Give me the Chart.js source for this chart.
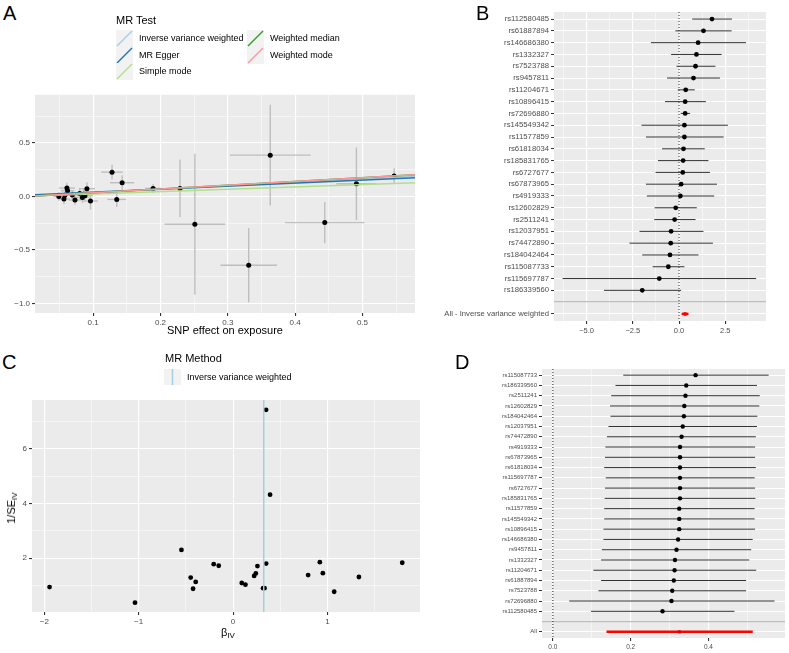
<!DOCTYPE html>
<html>
<head>
<meta charset="utf-8">
<script src="https://cdn.jsdelivr.net/npm/chart.js@4.4.1/dist/chart.umd.min.js"></script>
<style>
  body { margin: 0; background: #fff; font-family: "Liberation Sans", Arial, Helvetica, sans-serif; }
  #wrap { position: relative; width: 789px; height: 653px; overflow: hidden; }
  canvas { position: absolute; }
  .t { position: absolute; white-space: nowrap; color: #000; }
  .tag { font-size: 20px; line-height: 20px; }
  sub { font-size: 8px; vertical-align: -2px; }
</style>
</head>
<body>
<div id="wrap">
  <canvas id="chartA" width="420" height="250" style="left:0;top:88px"></canvas>
  <canvas id="chartB" width="369" height="340" style="left:420px;top:0"></canvas>
  <canvas id="chartC" width="430" height="263" style="left:0;top:390px"></canvas>
  <canvas id="chartD" width="349" height="298" style="left:440px;top:355px"></canvas>

  <div class="t tag" style="left:3px;top:3px">A</div>
  <div class="t tag" style="left:476px;top:3px">B</div>
  <div class="t tag" style="left:2px;top:352px">C</div>
  <div class="t tag" style="left:455px;top:352px">D</div>

  <div class="t" style="left:116px;top:15px;font-size:11px;line-height:11px">MR Test</div>
  <div id="legendA"></div>

  <div class="t" style="left:165px;top:353px;font-size:11px;line-height:11px">MR Method</div>
  <svg style="position:absolute;left:164px;top:369px" width="17" height="16">
    <rect width="17" height="16" fill="#F2F2F2"/>
    <line x1="8.5" y1="0" x2="8.5" y2="16" stroke="#A6CEE3" stroke-width="1.5"/>
  </svg>
  <div class="t" style="left:187px;top:369px;font-size:9px;line-height:16px">Inverse variance weighted</div>

  <div class="t" style="left:228px;top:626px;font-size:11px;line-height:12px;transform:translateX(-50%)">β<sub>IV</sub></div>
  <div class="t" style="left:13px;top:508px;font-size:11px;line-height:12px;transform:translate(-50%,-50%) rotate(-90deg)">1/SE<sub>IV</sub></div>
</div>
<script>
const FONT = '"Liberation Sans", Arial, Helvetica, sans-serif';

// ---- A: SNP effects, exposure vs outcome
const snpExposure = [0.049, 0.0566, 0.061, 0.062, 0.058, 0.069, 0.073, 0.080, 0.084, 0.0877, 0.0907, 0.096,
                     0.128, 0.135, 0.143, 0.189, 0.229, 0.251, 0.331, 0.363, 0.444, 0.491, 0.547, 0.086];
const snpOutcome = [0.0, -0.024, 0.078, 0.053, 0.01, 0.013, -0.034, 0.028, -0.009, 0.007, 0.072, -0.043,
                    0.227, -0.028, 0.128, 0.075, 0.075, -0.26, -0.643, 0.386, -0.245, 0.118, 0.19, 0.02];
const seExposure = [0.008, 0.009, 0.012, 0.010, 0.008, 0.010, 0.009, 0.011, 0.010, 0.012, 0.012, 0.011,
                    0.016, 0.014, 0.018, 0.012, 0.005, 0.045, 0.042, 0.060, 0.059, 0.030, 0.010, 0.010];
const seOutcome = [0.04, 0.05, 0.05, 0.04, 0.03, 0.04, 0.045, 0.05, 0.05, 0.04, 0.06, 0.08,
                   0.068, 0.07, 0.07, 0.042, 0.27, 0.66, 0.347, 0.47, 0.193, 0.34, 0.073, 0.05];
const mrMethods = ["Inverse variance weighted", "MR Egger", "Simple mode", "Weighted median", "Weighted mode"];
const mrIntercept = [0, 0.012, 0, 0, 0];
const mrSlope = [0.325, 0.28, 0.22, 0.35, 0.35];
const mrColors = ["#A6CEE3", "#1F78B4", "#B2DF8A", "#33A02C", "#FB9A99"];
const aXTicks = [0.1, 0.2, 0.3, 0.4, 0.5];
const aYTicks = [-1, -0.5, 0, 0.5];

// ---- B: single SNP forest plot
const forestSnps = ["rs112580485", "rs61887894", "rs146686380", "rs1332327", "rs7523788", "rs9457811",
  "rs11204671", "rs10896415", "rs72696880", "rs145549342", "rs11577859", "rs61818034", "rs185831765",
  "rs6727677", "rs67873965", "rs4919333", "rs12602829", "rs2511241", "rs12037951", "rs74472890",
  "rs184042464", "rs115087733", "rs115697787", "rs186339560"];
const forestBeta = [1.78, 1.32, 1.03, 0.94, 0.89, 0.78, 0.36, 0.33, 0.33, 0.29, 0.29, 0.24, 0.22,
  0.20, 0.11, 0.07, -0.18, -0.24, -0.43, -0.45, -0.49, -0.58, -1.07, -1.99];
const forestLo = [0.71, -0.20, -1.52, -0.43, -0.14, -0.65, -0.07, -0.76, 0.09, -2.03, -1.79, -0.92, -1.14,
  -1.27, -1.79, -1.74, -1.32, -1.34, -2.14, -2.68, -1.99, -1.43, -6.30, -4.06];
const forestHi = [2.86, 2.84, 3.62, 2.30, 1.97, 2.21, 0.85, 1.45, 0.60, 2.64, 2.41, 1.39, 1.59,
  1.67, 2.05, 1.90, 0.96, 0.89, 1.32, 1.83, 1.05, 0.29, 4.17, 0.11];
const ivwLabel = "All - Inverse variance weighted";
const ivwBeta = 0.325, ivwLo = 0.14, ivwHi = 0.51;
const bXTicks = [-5, -2.5, 0, 2.5];

// ---- C: funnel plot
const funnelBeta = [-1.944, -1.039, -0.547, -0.449, -0.396, -0.424, -0.205, -0.152,
  0.35, 0.392, 0.35, 0.258, 0.241, 0.223, 0.092, 0.131, 0.318, 0.333, 0.795, 0.919, 0.951, 1.071, 1.333, 1.792];
const funnelInvSe = [0.94, 0.37, 2.30, 1.29, 1.13, 0.88, 1.78, 1.72,
  7.42, 4.32, 1.80, 1.71, 1.44, 1.35, 1.09, 1.03, 0.90, 0.90, 1.38, 1.85, 1.45, 0.77, 1.31, 1.83];
const cXTicks = [-2, -1, 0, 1];
const cYTicks = [2, 4, 6];

// ---- D: leave-one-out
const looSnps = ["rs115087733", "rs186339560", "rs2511241", "rs12602829", "rs184042464", "rs12037951",
  "rs74472890", "rs4919333", "rs67873965", "rs61818034", "rs115697787", "rs6727677", "rs185831765",
  "rs11577859", "rs145549342", "rs10896415", "rs146686380", "rs9457811", "rs1332327", "rs11204671",
  "rs61887894", "rs7523788", "rs72696880", "rs112580485"];
const looBeta = [0.367, 0.343, 0.341, 0.338, 0.337, 0.334, 0.331, 0.327, 0.327, 0.327, 0.327, 0.327, 0.327,
  0.325, 0.325, 0.325, 0.322, 0.318, 0.314, 0.313, 0.311, 0.307, 0.305, 0.282];
const looLo = [0.181, 0.161, 0.150, 0.147, 0.148, 0.143, 0.139, 0.135, 0.134, 0.132, 0.136, 0.134, 0.133,
  0.132, 0.132, 0.130, 0.130, 0.126, 0.124, 0.104, 0.124, 0.117, 0.042, 0.098];
const looHi = [0.555, 0.525, 0.532, 0.531, 0.526, 0.525, 0.522, 0.520, 0.520, 0.522, 0.519, 0.520, 0.521,
  0.519, 0.519, 0.520, 0.514, 0.510, 0.505, 0.523, 0.497, 0.497, 0.570, 0.467];
const looAllLabel = "All";
const looAllBeta = 0.325, looAllLo = 0.138, looAllHi = 0.514;
const dXTicks = [0, 0.2, 0.4];

// grey panel background like ggplot
const panelBg = {
  id: "panelBg",
  beforeDraw(chart) {
    const { ctx, chartArea: a } = chart;
    ctx.save();
    ctx.fillStyle = "#EBEBEB";
    ctx.fillRect(a.left, a.top, a.right - a.left, a.bottom - a.top);
    ctx.restore();
  }
};

// error bars stored on datasets, drawn through the scales
const errorBars = {
  id: "errorBars",
  beforeDatasetsDraw(chart) {
    const { ctx, scales: { x, y } } = chart;
    chart.data.datasets.forEach(ds => {
      if (!ds.bars) return;
      ctx.save();
      ctx.strokeStyle = ds.barColor;
      ctx.lineWidth = ds.barWidth;
      ds.bars.forEach(b => {
        ctx.beginPath();
        ctx.moveTo(x.getPixelForValue(b.x0), y.getPixelForValue(b.y0));
        ctx.lineTo(x.getPixelForValue(b.x1), y.getPixelForValue(b.y1));
        ctx.stroke();
      });
      ctx.restore();
    });
  }
};

const fmtNum = d => v => (v < 0 ? "\u2212" : "") + Math.abs(v).toFixed(d);

function valueAxis(min, max, major, minor, fmt, size, fit) {
  const isMajor = v => major.some(m => Math.abs(m - v) < 1e-9);
  return {
    type: "linear", min, max,
    afterBuildTicks: ax => { ax.ticks = major.concat(minor).sort((a, b) => a - b).map(v => ({ value: v })); },
    afterFit: s => { if (fit.width) s.width = fit.width; if (fit.height) s.height = fit.height; },
    ticks: { autoSkip: false, maxRotation: 0, color: "#4D4D4D", font: { size, family: FONT }, padding: 2,
             callback: v => isMajor(v) ? fmt(v) : "" },
    grid: {
      color: "#FFFFFF",
      lineWidth: c => (c.tick && isMajor(c.tick.value)) ? 1.1 : 0.5,
      tickLength: 3,
      tickColor: c => (c.tick && isMajor(c.tick.value)) ? "#333333" : "rgba(0,0,0,0)"
    },
    border: { display: false }
  };
}

function rowAxis(labels, size, width) {
  const blank = c => c.tick && labels[c.tick.value - 1] === "";
  return {
    type: "linear", reverse: true, min: 0.4, max: labels.length + 0.6,
    afterBuildTicks: ax => { ax.ticks = labels.map((l, i) => ({ value: i + 1 })); },
    afterFit: s => { s.width = width; },
    ticks: { autoSkip: false, color: "#4D4D4D", font: { size, family: FONT }, padding: 2,
             callback: v => labels[v - 1] },
    grid: {
      color: c => blank(c) ? "#BEBEBE" : "#FFFFFF",
      lineWidth: c => blank(c) ? 1.3 : 1,
      tickLength: 3,
      tickColor: c => blank(c) ? "rgba(0,0,0,0)" : "#333333"
    },
    border: { display: false }
  };
}

function baseOptions(padding, scales) {
  return {
    responsive: false, animation: false, devicePixelRatio: 1, events: [],
    layout: { padding },
    plugins: { legend: { display: false }, tooltip: { enabled: false } },
    scales
  };
}

/** A: scatter with MR regression lines (weighted mode drawn on top) */
const aXMin = 0.0136, aXMax = 0.578;
const aLines = mrMethods.map((m, i) => ({
  label: m, showLine: true, pointRadius: 0, borderColor: mrColors[i], borderWidth: 1.5,
  order: mrMethods.length - i,
  data: [aXMin, aXMax].map(x => ({ x, y: mrIntercept[i] + mrSlope[i] * x }))
}));
const aXAxis = valueAxis(aXMin, aXMax, aXTicks, [0.05, 0.15, 0.25, 0.35, 0.45, 0.55], fmtNum(1), 8, { height: 25 });
aXAxis.title = { display: true, text: "SNP effect on exposure", color: "#000", font: { size: 11, family: FONT }, padding: 0 };
new Chart(document.getElementById("chartA"), {
  type: "scatter",
  data: {
    datasets: aLines.concat([{
      label: "SNPs", order: 20,
      data: snpExposure.map((x, i) => ({ x, y: snpOutcome[i] })),
      pointRadius: 2.5, pointBackgroundColor: "#000", pointBorderWidth: 0,
      bars: snpExposure.flatMap((x, i) => [
        { x0: x - seExposure[i], y0: snpOutcome[i], x1: x + seExposure[i], y1: snpOutcome[i] },
        { x0: x, y0: snpOutcome[i] - seOutcome[i], x1: x, y1: snpOutcome[i] + seOutcome[i] }
      ]),
      barColor: "#BEBEBE", barWidth: 1.4
    }])
  },
  options: baseOptions({ top: 6, right: 5, left: 0, bottom: 0 }, {
    x: aXAxis,
    y: valueAxis(-1.09, 0.95, aYTicks, [-0.75, -0.25, 0.25, 0.75], fmtNum(1), 8, { width: 35 })
  }),
  plugins: [panelBg, errorBars]
});

// legend for A
const legendA = document.getElementById("legendA");
mrMethods.forEach((m, i) => {
  const col = i < 3 ? 0 : 1, row = i < 3 ? i : i - 3;
  const left = col ? 247 : 116, top = 30 + row * 16.5;
  legendA.insertAdjacentHTML("beforeend",
    `<svg style="position:absolute;left:${left}px;top:${top}px" width="17" height="17">` +
    `<rect width="17" height="17" fill="#F2F2F2"/>` +
    `<line x1="1" y1="16" x2="16" y2="1" stroke="${mrColors[i]}" stroke-width="1.5"/></svg>` +
    `<div class="t" style="left:${left + 23}px;top:${top}px;font-size:9px;line-height:17px">${m}</div>`);
});

/** B: forest plot of single SNP estimates */
const bLabels = forestSnps.concat(["", ivwLabel]);
const bAllRow = bLabels.length;
new Chart(document.getElementById("chartB"), {
  type: "scatter",
  data: {
    datasets: [
      { label: "zero", showLine: true, pointRadius: 0, borderColor: "#333", borderWidth: 1, borderDash: [1, 2],
        data: [{ x: 0, y: 0.4 }, { x: 0, y: bAllRow + 0.6 }] },
      { label: "ivw", data: [{ x: ivwBeta, y: bAllRow }], pointRadius: 2, pointBackgroundColor: "#FF0000", pointBorderWidth: 0,
        bars: [{ x0: ivwLo, y0: bAllRow, x1: ivwHi, y1: bAllRow }], barColor: "#FF0000", barWidth: 2.5 },
      { label: "snps", data: forestBeta.map((b, i) => ({ x: b, y: i + 1 })),
        pointRadius: 2.4, pointBackgroundColor: "#000", pointBorderWidth: 0,
        bars: forestBeta.map((b, i) => ({ x0: forestLo[i], y0: i + 1, x1: forestHi[i], y1: i + 1 })),
        barColor: "#333", barWidth: 1 }
    ]
  },
  options: baseOptions({ top: 12, right: 23, left: 0, bottom: 0 }, {
    x: valueAxis(-6.76, 4.7, bXTicks, [-6.25, -3.75, -1.25, 1.25, 3.75], fmtNum(1), 7.5, { height: 19 }),
    y: rowAxis(bLabels, 7.7, 134)
  }),
  plugins: [panelBg, errorBars]
});

/** C: funnel plot */
new Chart(document.getElementById("chartC"), {
  type: "scatter",
  data: {
    datasets: [
      { label: "Inverse variance weighted", showLine: true, pointRadius: 0, borderColor: "#A6CEE3", borderWidth: 1.5,
        data: [{ x: ivwBeta, y: 0.03 }, { x: ivwBeta, y: 7.78 }] },
      { label: "SNPs", data: funnelBeta.map((b, i) => ({ x: b, y: funnelInvSe[i] })),
        pointRadius: 2.4, pointBackgroundColor: "#000", pointBorderWidth: 0 }
    ]
  },
  options: baseOptions({ top: 10, right: 10, left: 0, bottom: 0 }, {
    x: valueAxis(-2.13, 1.98, cXTicks, [-1.5, -0.5, 0.5, 1.5], fmtNum(0), 8, { height: 41 }),
    y: valueAxis(0.03, 7.78, cYTicks, [1, 3, 5, 7], fmtNum(0), 8, { width: 32 })
  }),
  plugins: [panelBg, errorBars]
});

/** D: leave-one-out */
const dLabels = looSnps.concat(["", looAllLabel]);
const dAllRow = dLabels.length;
new Chart(document.getElementById("chartD"), {
  type: "scatter",
  data: {
    datasets: [
      { label: "zero", showLine: true, pointRadius: 0, borderColor: "#222", borderWidth: 1, borderDash: [1, 2],
        data: [{ x: 0, y: 0.4 }, { x: 0, y: dAllRow + 0.6 }] },
      { label: "all", data: [{ x: looAllBeta, y: dAllRow }], pointRadius: 2.2, pointStyle: "rect",
        pointBackgroundColor: "#E00000", pointBorderWidth: 0,
        bars: [{ x0: looAllLo, y0: dAllRow, x1: looAllHi, y1: dAllRow }], barColor: "#FF0000", barWidth: 2.5 },
      { label: "loo", data: looBeta.map((b, i) => ({ x: b, y: i + 1 })),
        pointRadius: 2.2, pointBackgroundColor: "#000", pointBorderWidth: 0,
        bars: looBeta.map((b, i) => ({ x0: looLo[i], y0: i + 1, x1: looHi[i], y1: i + 1 })),
        barColor: "#333", barWidth: 1 }
    ]
  },
  options: baseOptions({ top: 14, right: 3, left: 0, bottom: 0 }, {
    x: valueAxis(-0.028, 0.597, dXTicks, [0.1, 0.3, 0.5], fmtNum(1), 6.5, { height: 15 }),
    y: rowAxis(dLabels, 6, 102)
  }),
  plugins: [panelBg, errorBars]
});
</script>
</body>
</html>
